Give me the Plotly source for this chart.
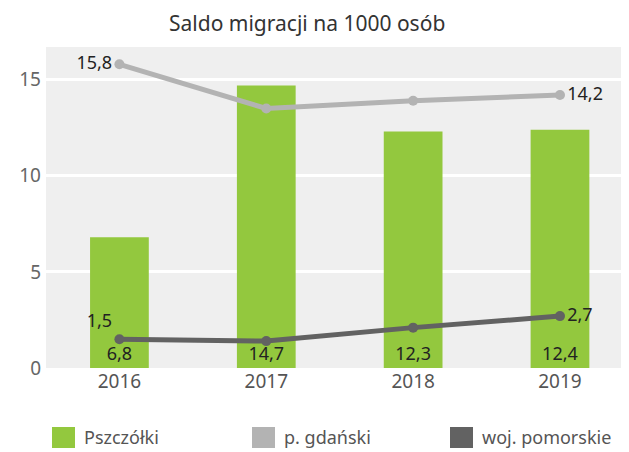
import plotly.graph_objects as go

years = ['2016', '2017', '2018', '2019']
pszczolki = [6.8, 14.7, 12.3, 12.4]
p_gdanski = [15.8, 13.5, 13.9, 14.2]
woj_pomorskie = [1.5, 1.4, 2.1, 2.7]

series_names = ['Pszczółki', 'p. gdański', 'woj. pomorskie']
series_colors = ['#93c83e', '#b3b3b3', '#626262']
title_text = 'Saldo migracji na 1000 osób'

FONT = 'Noto Sans'
# page body has an 8px margin, so the figure is 8px smaller and shifted
W, H = 621, 444
L, R, T, B = 38, 0, 39, 84


def fmt(v):
    return f'{v:.1f}'.replace('.', ',')


def label_only(values, keep):
    return [fmt(v) if i in keep else '' for i, v in enumerate(values)]


fig = go.Figure()

fig.add_trace(go.Bar(
    x=years, y=pszczolki, name=series_names[0],
    marker=dict(color=series_colors[0], line=dict(width=0)),
    width=0.4,
    text=[fmt(v) for v in pszczolki],
    textposition='inside', insidetextanchor='start',
    textfont=dict(family=FONT, size=18, color='#222222'),
    textangle=0, showlegend=False,
))

fig.add_trace(go.Scatter(
    x=years, y=p_gdanski, name=series_names[1], mode='lines+markers+text',
    line=dict(color=series_colors[1], width=5),
    marker=dict(color=series_colors[1], size=10),
    text=label_only(p_gdanski, [0, 3]),
    textposition=['middle left', 'middle left', 'middle left', 'middle right'],
    textfont=dict(family=FONT, size=18, color='#222222'),
    showlegend=False, cliponaxis=False,
))

fig.add_trace(go.Scatter(
    x=years, y=woj_pomorskie, name=series_names[2], mode='lines+markers+text',
    line=dict(color=series_colors[2], width=5),
    marker=dict(color=series_colors[2], size=10),
    text=label_only(woj_pomorskie, [0, 3]),
    textposition=['top left', 'top left', 'top left', 'middle right'],
    textfont=dict(family=FONT, size=18, color='#222222'),
    showlegend=False, cliponaxis=False,
))

# custom legend with large squares, positions in figure pixels
pw, ph = W - L - R, H - T - B


def px_x(x):
    return (x - L) / pw


def px_y(y):
    return (H - B - y) / ph


legend_x = [44, 244, 442]
for x0, name, col in zip(legend_x, series_names, series_colors):
    fig.add_shape(type='rect', xref='paper', yref='paper',
                  x0=px_x(x0), x1=px_x(x0 + 23),
                  y0=px_y(440), y1=px_y(419),
                  fillcolor=col, line=dict(width=0))
    fig.add_annotation(xref='paper', yref='paper', x=px_x(x0 + 30), y=px_y(429),
                       text=name, showarrow=False, xanchor='left', yanchor='middle',
                       font=dict(family=FONT, size=18, color='#555555'))

# title, box top kept at the figure's top edge
fig.add_annotation(xref='paper', yref='paper', x=px_x(299), y=px_y(0),
                   text=title_text, showarrow=False, xanchor='center', yanchor='top',
                   borderpad=0,
                   font=dict(family=FONT, size=21, color='#333333'))

fig.update_layout(
    width=W, height=H,
    margin=dict(l=L, r=R, t=T, b=B),
    paper_bgcolor='white', plot_bgcolor='#efefef',
    font=dict(family=FONT),
    bargap=0.6,
)
fig.update_xaxes(showgrid=False, showline=False, ticks='',
                 range=[-0.5, 3.47],
                 tickfont=dict(family=FONT, size=19, color='#555555'))
fig.update_yaxes(range=[0, 16.7], tickvals=[0, 5, 10, 15],
                 showgrid=True, gridcolor='white', gridwidth=3,
                 zeroline=False, showline=False, ticks='',
                 ticklabelstandoff=4,
                 tickfont=dict(family=FONT, size=19, color='#666666'))

fig.write_html('out.html')
